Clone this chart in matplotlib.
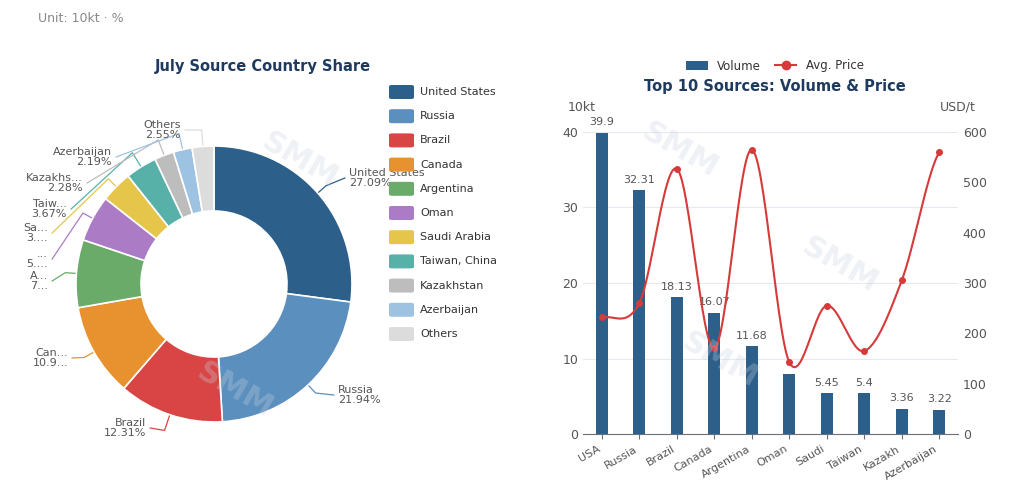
import numpy as np
import matplotlib
matplotlib.use('Agg')
from matplotlib import pyplot as plt
from matplotlib.patches import Patch, FancyBboxPatch
from matplotlib.lines import Line2D

# donut data
countries = ['United States','Russia','Brazil','Canada','Argentina','Oman',
             'Saudi Arabia','Taiwan, China','Kazakhstan','Azerbaijan','Others']
shares = [27.09,21.94,12.31,10.91,7.93,5.43,3.70,3.67,2.28,2.19,2.55]
pie_labels = ['United States\n27.09%','Russia\n21.94%','Brazil\n12.31%','Can...\n10.9...',
              'A...\n7...','...\n5....','Sa...\n3....','Taiw...\n3.67%','Kazakhs...\n2.28%',
              'Azerbaijan\n2.19%','Others\n2.55%']
colors = ['#2c5f8a','#5b8fbe','#d94545','#e8912f','#6aab6a','#ab7bc6',
          '#e6c54b','#58b1a9','#bdbdbd','#9ec2e2','#dcdcdc']

# bar/line data
src = ['USA','Russia','Brazil','Canada','Argentina','Oman','Saudi','Taiwan','Kazakh','Azerbaijan']
volume = [39.9,32.31,18.13,16.07,11.68,8.0,5.45,5.4,3.36,3.22]
vol_txt = ['39.9','32.31','18.13','16.07','11.68','','5.45','5.4','3.36','3.22']
price = [232,260,527,170,565,143,255,165,305,560]

W, H = 1024, 483
fig = plt.figure(figsize=(W/100, H/100), dpi=100)
fig.text(38/W, 1-18/H, 'Unit: 10kt · %', fontsize=9, color='#888888', va='center')

# ---- donut
cx, cy, R = 214, 284, 138
half = 200
ax = fig.add_axes([(cx-half)/W, (H-cy-half)/H, 2*half/W, 2*half/H])
wedges, _ = ax.pie(shares, colors=colors, startangle=90, counterclock=False, radius=1,
                   wedgeprops=dict(width=1-73/138, edgecolor='white', linewidth=1.2))
ax.set_xlim(-half/R, half/R); ax.set_ylim(-half/R, half/R); ax.set_aspect('equal')
ax.axis('off')
fig.text(263/W, 1-67/H, 'July Source Country Share', fontsize=10.5, fontweight='bold',
         color='#1f3a5f', ha='center', va='center')
# label text anchors (px), layout only
lab_pos = [(349,178,'left'),(338,395,'left'),(146,428,'right'),(68,358,'right'),
           (48,281,'right'),(48,259,'right'),(48,233,'right'),(67,209,'right'),
           (83,183,'right'),(112,157,'right'),(181,130,'right')]
for w, lab, (px, py, ha), c in zip(wedges, pie_labels, lab_pos, colors):
    a = np.deg2rad((w.theta1 + w.theta2) / 2)
    ex, ey = np.cos(a), np.sin(a)
    tx, ty = (px-cx)/R, (cy-py)/R
    ax.text(tx, ty, lab, ha=ha, va='center', fontsize=8, color='#555555', linespacing=0.95)
    sx = tx + (0.03 if ha == 'left' else -0.03) * -1
    kx = ex*1.12 if abs(ey) > 0.8 else ex*1.08
    ky = ey*1.12 if abs(ey) > 0.8 else ey*1.08
    ax.plot([ex*1.01, kx, sx], [ey*1.01, ky, ty], color=c, lw=0.9, clip_on=False)

# legend
for i, (n, c) in enumerate(zip(countries, colors)):
    y = 1 - (92 + i*24.2)/H
    fig.patches.append(FancyBboxPatch((389/W, y-7/H), 25/W, 14/H,
                       boxstyle='round,pad=0,rounding_size=0.003', transform=fig.transFigure,
                       facecolor=c, edgecolor='none'))
    fig.text(420/W, y, n, fontsize=8, color='#333333', va='center')

# ---- bars + price
bx = fig.add_axes([583/W, (H-434)/H, (958-583)/W, (434-132)/H])
x = np.arange(len(src))
bx.bar(x, volume, width=0.33, color='#2c5f8a', zorder=3)
for xi, v, t in zip(x, volume, vol_txt):
    bx.text(xi, v+0.7, t, ha='center', va='bottom', fontsize=8, color='#555555')
bx.set_ylim(0, 40); bx.set_xlim(-0.5, len(src)-0.5)
bx.set_yticks([0,10,20,30,40])
bx.set_xticks(x); bx.set_xticklabels(src, rotation=30, ha='right', fontsize=8, color='#555555')
bx.grid(axis='y', color='#e6e9f0', lw=0.8, zorder=0)
for s in ['top','right','left']:
    bx.spines[s].set_visible(False)
bx.spines['bottom'].set_color('#6e7079')
bx.tick_params(axis='y', length=0, labelsize=9, labelcolor='#555555')
bx.tick_params(axis='x', color='#6e7079')
bx.text(-0.04, 1.07, '10kt', transform=bx.transAxes, fontsize=9, color='#555555')

px2 = bx.twinx()
px2.set_ylim(0, 600); px2.set_yticks([0,100,200,300,400,500,600])
for s in px2.spines.values():
    s.set_visible(False)
px2.tick_params(axis='y', length=0, labelsize=9, labelcolor='#555555')
px2.text(1.0, 1.07, 'USD/t', transform=px2.transAxes, fontsize=9, color='#555555', ha='center')
# smooth curve through price points (Catmull-Rom)
P = np.array(price, float)
xs, ys = [], []
for i in range(len(P)-1):
    p0 = P[max(i-1,0)]; p1 = P[i]; p2 = P[i+1]; p3 = P[min(i+2,len(P)-1)]
    t = np.linspace(0, 1, 30)
    ys.append(0.5*((2*p1) + (-p0+p2)*t + (2*p0-5*p1+4*p2-p3)*t**2 + (-p0+3*p1-3*p2+p3)*t**3))
    xs.append(i + t)
px2.plot(np.concatenate(xs), np.concatenate(ys), color='#d63a3a', lw=1.5, zorder=4)
px2.plot(x, price, 'o', color='#d63a3a', ms=4, zorder=5)

fig.text(775/W, 1-87/H, 'Top 10 Sources: Volume & Price', fontsize=10.5, fontweight='bold',
         color='#1f3a5f', ha='center', va='center')
fig.legend(handles=[Patch(facecolor='#2c5f8a', label='Volume'),
                    Line2D([0],[0], color='#d63a3a', marker='o', ms=6, label='Avg. Price')],
           loc='center', bbox_to_anchor=(775/W, 1-66/H), ncol=2, frameon=False,
           fontsize=8.5, handlelength=1.8, columnspacing=1.2, labelcolor='#333333')

for (wx, wy) in [(680,150),(840,265),(720,360),(235,390),(300,160)]:
    fig.text(wx/W, 1-wy/H, 'SMM', fontsize=22, fontweight='bold', color='#c8d2de', alpha=0.3,
             rotation=-30, ha='center', va='center', zorder=10)

fig.savefig('out.png', dpi=100)
